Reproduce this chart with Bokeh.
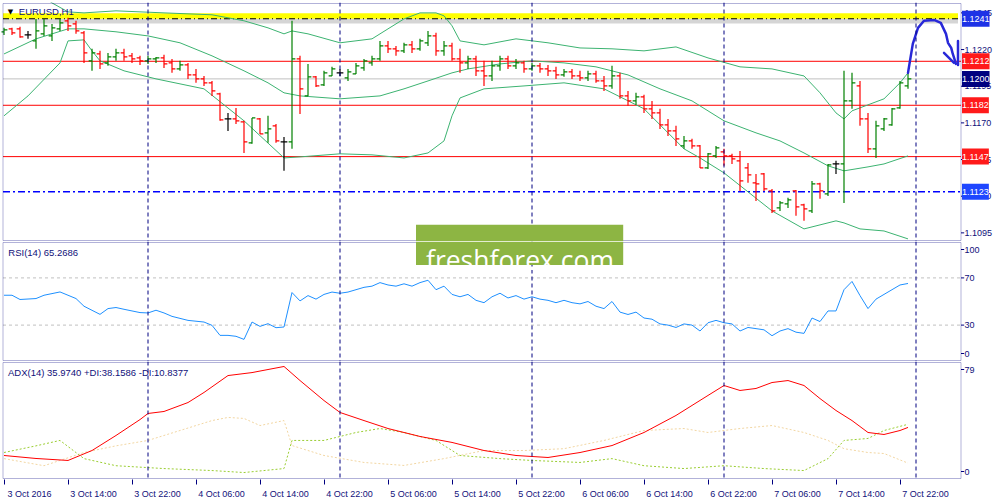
from bokeh.plotting import figure
from bokeh.layouts import column
from bokeh.models import Range1d, Span, Label, FixedTicker, ColumnDataSource, BoxAnnotation
from bokeh.transform import dodge
from bokeh.embed import file_html
from bokeh.resources import INLINE

# ---------------- data ----------------
symbol_title = "EURUSD,H1"
x_tick_bars = [0, 8, 16, 24, 32, 40, 48, 56, 64, 72, 80, 88, 96, 104, 112]
x_tick_labels = ["3 Oct 2016", "3 Oct 14:00", "3 Oct 22:00", "4 Oct 06:00", "4 Oct 14:00",
                 "4 Oct 22:00", "5 Oct 06:00", "5 Oct 14:00", "5 Oct 22:00", "6 Oct 06:00",
                 "6 Oct 14:00", "6 Oct 22:00", "7 Oct 06:00", "7 Oct 14:00", "7 Oct 22:00"]
day_breaks = [18, 42, 66, 90, 114]
price_ticks = [1.1245, 1.1220, 1.1195, 1.1170, 1.1145, 1.1120, 1.1095]

opens = [1.12321, 1.12341, 1.12341, 1.12300, 1.12259, 1.12307, 1.12293, 1.12341, 1.12396, 1.12375,
         1.12314, 1.12123, 1.12170, 1.12109, 1.12150, 1.12177, 1.12157, 1.12143, 1.12123, 1.12136,
         1.12143, 1.12109, 1.12068, 1.12095, 1.12027, 1.12000, 1.11973, 1.11898, 1.11727, 1.11727,
         1.11707, 1.11564, 1.11727, 1.11632, 1.11680, 1.11570, 1.11570, 1.12136, 1.11884, 1.12014,
         1.11959, 1.12020, 1.12041, 1.12007, 1.12034, 1.12075, 1.12109, 1.12136, 1.12225, 1.12205,
         1.12191, 1.12232, 1.12205, 1.12246, 1.12293, 1.12191, 1.12225, 1.12136, 1.12109, 1.12136,
         1.12055, 1.12020, 1.12089, 1.12136, 1.12089, 1.12109, 1.12068, 1.12089, 1.12068, 1.12055,
         1.12027, 1.12048, 1.12020, 1.12007, 1.12034, 1.11986, 1.11952, 1.12020, 1.11884, 1.11850,
         1.11877, 1.11796, 1.11768, 1.11686, 1.11645, 1.11543, 1.11577, 1.11543, 1.11393, 1.11475,
         1.11502, 1.11475, 1.11441, 1.11393, 1.11291, 1.11352, 1.11236, 1.11120, 1.11148, 1.11236,
         1.11141, 1.11100, 1.11284, 1.11216, 1.11420, 1.11420, 1.11850, 1.11952, 1.11727, 1.11523,
         1.11659, 1.11686, 1.11802, 1.11952]
highs = [1.12348, 1.12348, 1.12355, 1.12327, 1.12409, 1.12409, 1.12375, 1.12409, 1.12416, 1.12396,
         1.12327, 1.12205, 1.12191, 1.12177, 1.12205, 1.12205, 1.12177, 1.12157, 1.12157, 1.12150,
         1.12164, 1.12136, 1.12123, 1.12109, 1.12068, 1.12020, 1.11986, 1.11905, 1.11768, 1.11802,
         1.11714, 1.11734, 1.11734, 1.11748, 1.11693, 1.11604, 1.12396, 1.12157, 1.12102, 1.12020,
         1.12055, 1.12082, 1.12068, 1.12068, 1.12109, 1.12136, 1.12157, 1.12259, 1.12259, 1.12225,
         1.12246, 1.12259, 1.12273, 1.12327, 1.12314, 1.12259, 1.12246, 1.12205, 1.12157, 1.12157,
         1.12123, 1.12123, 1.12157, 1.12157, 1.12136, 1.12123, 1.12109, 1.12109, 1.12095, 1.12082,
         1.12068, 1.12068, 1.12055, 1.12055, 1.12055, 1.12020, 1.12089, 1.12041, 1.11918, 1.11905,
         1.11891, 1.11850, 1.11796, 1.11727, 1.11680, 1.11611, 1.11591, 1.11550, 1.11495, 1.11543,
         1.11523, 1.11489, 1.11509, 1.11427, 1.11352, 1.11359, 1.11250, 1.11168, 1.11189, 1.11243,
         1.11148, 1.11304, 1.11291, 1.11420, 1.11441, 1.12055, 1.12041, 1.11986, 1.11768, 1.11714,
         1.11734, 1.11802, 1.11986, 1.12041]
lows = [1.12300, 1.12300, 1.12280, 1.12273, 1.12205, 1.12293, 1.12259, 1.12327, 1.12327, 1.12307,
        1.12109, 1.12055, 1.12068, 1.12089, 1.12123, 1.12123, 1.12109, 1.12095, 1.12102, 1.12109,
        1.12075, 1.12041, 1.12055, 1.12000, 1.11973, 1.11952, 1.11884, 1.11714, 1.11645, 1.11693,
        1.11495, 1.11557, 1.11625, 1.11564, 1.11564, 1.11373, 1.11523, 1.11761, 1.11884, 1.11945,
        1.11952, 1.12020, 1.12020, 1.11986, 1.12034, 1.12055, 1.12089, 1.12123, 1.12177, 1.12157,
        1.12177, 1.12177, 1.12191, 1.12225, 1.12157, 1.12157, 1.12123, 1.12041, 1.12068, 1.12020,
        1.11952, 1.11986, 1.12055, 1.12068, 1.12068, 1.12041, 1.12055, 1.12041, 1.12020, 1.12000,
        1.12014, 1.12000, 1.11986, 1.11986, 1.11973, 1.11918, 1.11932, 1.11864, 1.11816, 1.11823,
        1.11768, 1.11727, 1.11659, 1.11611, 1.11543, 1.11523, 1.11523, 1.11393, 1.11386, 1.11461,
        1.11407, 1.11420, 1.11236, 1.11291, 1.11168, 1.11236, 1.11086, 1.11100, 1.11120, 1.11066,
        1.11032, 1.11086, 1.11182, 1.11202, 1.11352, 1.11154, 1.11796, 1.11680, 1.11495, 1.11461,
        1.11645, 1.11680, 1.11796, 1.11932]
closes = [1.12334, 1.12314, 1.12287, 1.12300, 1.12327, 1.12362, 1.12348, 1.12382, 1.12362, 1.12327,
          1.12177, 1.12177, 1.12102, 1.12150, 1.12177, 1.12150, 1.12136, 1.12123, 1.12136, 1.12143,
          1.12102, 1.12068, 1.12095, 1.12027, 1.12000, 1.11973, 1.11918, 1.11720, 1.11727, 1.11714,
          1.11570, 1.11734, 1.11625, 1.11659, 1.11577, 1.11570, 1.12136, 1.11932, 1.12014, 1.11952,
          1.12041, 1.12068, 1.12041, 1.12048, 1.12089, 1.12123, 1.12136, 1.12225, 1.12205, 1.12191,
          1.12232, 1.12205, 1.12259, 1.12293, 1.12191, 1.12225, 1.12136, 1.12109, 1.12136, 1.12055,
          1.12020, 1.12089, 1.12136, 1.12089, 1.12109, 1.12068, 1.12089, 1.12068, 1.12055, 1.12027,
          1.12048, 1.12020, 1.12007, 1.12034, 1.11986, 1.11952, 1.12020, 1.11884, 1.11850, 1.11877,
          1.11796, 1.11768, 1.11686, 1.11645, 1.11591, 1.11577, 1.11543, 1.11393, 1.11489, 1.11529,
          1.11475, 1.11454, 1.11304, 1.11345, 1.11284, 1.11250, 1.11100, 1.11154, 1.11175, 1.11127,
          1.11114, 1.11284, 1.11236, 1.11413, 1.11420, 1.11850, 1.11973, 1.11727, 1.11523, 1.11680,
          1.11727, 1.11796, 1.11973, 1.12000]

bb_upper_bar = [0, 3, 6, 8, 10, 14, 20, 26, 30, 33, 35, 36, 38, 42, 46, 48, 50, 52, 54, 55, 56, 57,
                60, 64, 68, 72, 76, 80, 84, 88, 92, 96, 100, 102, 104, 105, 106, 108, 110, 112, 113]
bb_upper = [1.12737, 1.12634, 1.12518, 1.12457, 1.12450, 1.12464, 1.12450, 1.12437, 1.12396, 1.12348,
            1.12307, 1.12327, 1.12307, 1.12246, 1.12273, 1.12341, 1.12409, 1.12450, 1.12450, 1.12430,
            1.12362, 1.12259, 1.12232, 1.12273, 1.12246, 1.12211, 1.12205, 1.12191, 1.12218, 1.12143,
            1.12082, 1.12068, 1.12020, 1.11905, 1.11768, 1.11727, 1.11782, 1.11823, 1.11864, 1.11973,
            1.12041]
bb_mid_bar = [0, 4, 8, 10, 14, 18, 22, 26, 30, 33, 35, 37, 42, 47, 50, 53, 56, 58, 62, 66, 70, 74,
              78, 82, 86, 90, 94, 97, 100, 103, 105, 108, 110, 113]
bb_mid = [1.12170, 1.12273, 1.12341, 1.12341, 1.12321, 1.12293, 1.12246, 1.12157, 1.12055, 1.11973,
          1.11905, 1.11884, 1.11864, 1.11884, 1.11932, 1.11986, 1.12041, 1.12068, 1.12102, 1.12123,
          1.12109, 1.12082, 1.12027, 1.11932, 1.11850, 1.11714, 1.11632, 1.11577, 1.11495, 1.11407,
          1.11373, 1.11400, 1.11420, 1.11475]
bb_lower_bar = [0, 3, 7, 8, 10, 11, 12, 15, 19, 25, 30, 35, 37, 42, 46, 50, 53, 55, 56, 57, 60, 65,
                70, 75, 80, 85, 87, 90, 96, 100, 104, 105, 107, 110, 113]
bb_lower = [1.11748, 1.11884, 1.12109, 1.12259, 1.12266, 1.12191, 1.12123, 1.12055, 1.12000, 1.11932,
            1.11714, 1.11461, 1.11468, 1.11489, 1.11482, 1.11461, 1.11495, 1.11577, 1.11748, 1.11870,
            1.11932, 1.11952, 1.11973, 1.11932, 1.11796, 1.11523, 1.11461, 1.11359, 1.11100, 1.10977,
            1.11032, 1.11018, 1.10977, 1.10963, 1.10909]

levels = [1.1241, 1.1212, 1.1200, 1.1182, 1.1147, 1.1123]
level_kind = ["target", "resist", "bid", "resist", "resist", "support"]

arrow_x = [113.0, 113.6, 114.25, 115.0, 116.25, 117.1, 117.75, 118.0, 118.4, 118.6, 119.0]
arrow_y = [1.12041, 1.12239, 1.12348, 1.12396, 1.12402, 1.12382, 1.12307, 1.12246, 1.12211, 1.12170, 1.12102]
arrow_head_x = [[117.5, 118.75], [119.25, 119.25]]
arrow_head_y = [[1.12177, 1.12109], [1.12259, 1.12095]]

rsi_title = "RSI(14) 65.2686"
rsi_ticks = [100, 70, 30, 0]
rsi_levels = [70, 30]
rsi_bar = [0, 1, 2, 4, 5, 6, 7, 8, 9, 10, 12, 13, 14, 15, 17, 18, 19, 20, 21, 23, 25, 26, 27, 28, 29,
           30, 31, 32, 33, 34, 35, 36, 37, 38, 39, 40, 41, 42, 43, 44, 45, 46, 47, 48, 49, 50, 51, 52,
           53, 54, 55, 56, 57, 58, 59, 60, 61, 62, 63, 64, 65, 66, 67, 68, 69, 70, 71, 72, 73, 74, 75,
           76, 77, 78, 79, 80, 81, 82, 83, 84, 85, 86, 87, 88, 89, 90, 91, 92, 93, 94, 95, 96, 97, 98,
           99, 100, 101, 102, 103, 104, 105, 106, 107, 108, 109, 110, 111, 112, 113]
rsi = [55.3, 55.3, 51.7, 52.5, 55.3, 56.7, 58.1, 55.3, 52.5, 46.0, 39.1, 44.0, 44.9, 43.4, 40.6, 40.3,
       42.6, 40.3, 37.4, 34.0, 32.6, 29.8, 21.3, 21.3, 20.5, 17.9, 32.6, 28.9, 31.2, 27.8, 28.4, 57.6,
       50.5, 55.0, 52.0, 56.0, 58.0, 57.0, 58.0, 60.0, 62.0, 63.0, 66.0, 64.0, 63.0, 65.0, 63.0, 66.0,
       68.0, 60.0, 63.0, 56.0, 54.0, 56.0, 51.0, 49.0, 54.0, 57.0, 53.0, 55.0, 52.0, 54.0, 52.0, 51.0,
       49.0, 51.0, 49.0, 48.0, 50.0, 46.0, 44.0, 50.0, 41.0, 39.0, 41.0, 36.0, 35.0, 31.0, 30.0, 28.0,
       31.0, 30.0, 25.0, 32.0, 34.0, 32.0, 31.0, 25.0, 28.0, 27.0, 26.0, 21.0, 25.0, 27.0, 24.0, 23.0,
       36.0, 33.0, 42.0, 42.0, 60.0, 67.0, 55.0, 44.0, 52.0, 56.0, 60.0, 64.0, 65.27]

adx_title = "ADX(14) 35.9740 +DI:38.1586 -DI:10.8377"
adx_ticks = [79, 0]
adx_bar = [0, 4, 8, 11, 14, 17, 18, 20, 23, 25, 28, 31, 35, 37, 40, 42, 45, 48, 52, 56, 60, 64, 68,
           72, 76, 80, 84, 88, 90, 92, 94, 96, 98, 100, 102, 104, 106, 108, 110, 112, 113]
adx = [16.2, 14.1, 12.7, 19.7, 30.3, 41.5, 45.8, 47.2, 53.5, 60.6, 72.5, 74.6, 78.9, 69.0, 54.9, 46.5,
       40.8, 35.2, 29.6, 25.4, 19.7, 16.2, 14.8, 18.3, 23.2, 32.4, 44.4, 58.5, 65.5, 62.0, 63.4, 67.6,
       69.0, 65.5, 56.3, 47.9, 40.8, 32.4, 31.0, 33.8, 35.97]
plus_di_bar = [0, 4, 7, 10, 14, 20, 26, 30, 35, 36, 40, 44, 47, 50, 54, 57, 62, 66, 72, 76, 80, 85,
               90, 95, 100, 103, 105, 108, 110, 113]
plus_di = [18.3, 23.0, 26.8, 14.0, 9.0, 7.0, 5.6, 4.2, 7.0, 26.8, 26.8, 32.4, 35.2, 32.4, 26.8, 16.2,
           14.0, 12.7, 11.3, 14.0, 9.0, 7.0, 9.0, 7.0, 5.6, 14.0, 26.8, 28.2, 33.8, 38.16]
minus_di_bar = [0, 5, 10, 14, 18, 22, 26, 28, 30, 32, 35, 36, 40, 45, 50, 55, 60, 65, 70, 75, 80, 85,
                88, 92, 96, 100, 103, 105, 108, 110, 113]
minus_di = [14.0, 9.0, 18.3, 23.0, 26.8, 33.8, 40.8, 43.0, 42.3, 37.3, 40.8, 23.2, 16.2, 11.3, 9.2,
            14.0, 19.7, 19.7, 21.0, 26.8, 33.8, 35.2, 32.4, 35.2, 37.3, 32.4, 26.8, 21.0, 18.3, 17.6, 10.84]

watermark = "freshforex.com"

# ---------------- layout constants ----------------
NAVY = "#000080"
TXT = "#10107a"
FONT = "Liberation Sans"
PX_PER_BAR = 8.0
X0, X1 = -0.125, 119.625      # chart area border; right of X1 is the price-scale strip
FRAME_W = 998
XS = -0.3125
x_rng = Range1d(XS, XS + FRAME_W / PX_PER_BAR)


def make_fig(frame_h, lo, hi, inner_h, top, bottom, ticks, tick_text, x_loc=None):
    unit = (hi - lo) / inner_h                    # value per pixel
    pad = unit * (frame_h - inner_h) / 2
    p = figure(frame_width=FRAME_W, frame_height=frame_h, x_range=x_rng,
               y_range=Range1d(lo - pad, hi + pad),
               y_axis_location="right", x_axis_location=x_loc,
               toolbar_location=None, output_backend="svg",
               min_border_left=1, min_border_right=0, min_border_top=top, min_border_bottom=bottom)
    p.grid.visible = False
    p.outline_line_color = None
    # scale labels are kept ~7px inside the panel, as the terminal does
    margin = 7 * unit
    pos = [min(max(v, lo + margin), hi - margin) for v in ticks]
    ax = p.yaxis[0]
    ax.ticker = FixedTicker(ticks=pos)
    ax.major_label_overrides = {q: t for q, t in zip(pos, tick_text)}
    ax.axis_line_color = None
    ax.major_tick_line_color = None
    ax.major_tick_out = 0
    ax.major_tick_in = 0
    ax.minor_tick_line_color = None
    ax.major_label_text_color = TXT
    ax.major_label_text_font = FONT
    ax.major_label_text_font_size = "9px"
    ax.major_label_standoff = -35
    p.add_layout(BoxAnnotation(left=X0, right=X1, bottom=lo, top=hi, fill_color=None,
                               line_color=NAVY, line_width=1))
    p.segment(x0=X1, x1=X1 + 0.4, y0=pos, y1=pos, line_color=NAVY, line_width=1)
    for b in day_breaks:
        p.add_layout(Span(location=b, dimension="height", line_color=NAVY,
                          line_dash="4 3", line_width=1))
    return p


# ---------------- price panel ----------------
P_LO, P_HI = 1.10898, 1.12514
p1 = make_fig(239, P_LO, P_HI, 237, 2, 0, price_ticks, [f"{v:.4f}" for v in price_ticks])

p1.add_layout(BoxAnnotation(left=X0, right=119.25, bottom=1.12377, top=levels[0], fill_color="#888888",
                            fill_alpha=0.35, line_color=None, level="underlay"))
p1.add_layout(BoxAnnotation(left=X0, right=119.25, bottom=levels[0], top=1.12447, fill_color="#ffff00",
                            fill_alpha=1.0, line_color=None, level="underlay"))

line_style = {
    "target": dict(line_color="#000000", line_dash="6 3 1 3", line_width=1),
    "resist": dict(line_color="#ff0000", line_dash="solid", line_width=1),
    "bid": dict(line_color="#c0c0c0", line_dash="solid", line_width=1),
    "support": dict(line_color="#0000ff", line_dash="7 3 2 3", line_width=1.5),
}
for lv, kind in zip(levels, level_kind):
    p1.segment(x0=X0, x1=X1, y0=[lv], y1=[lv], **line_style[kind])

bb_col = "#3cb371"
p1.line(bb_upper_bar, bb_upper, line_color=bb_col, line_width=1)
p1.line(bb_mid_bar, bb_mid, line_color=bb_col, line_width=1)
p1.line(bb_lower_bar, bb_lower, line_color=bb_col, line_width=1)

bar_colors = ["#008000" if c > o else ("#ff0000" if c < o else "#000000") for o, c in zip(opens, closes)]
src = ColumnDataSource(dict(x=list(range(len(opens))), o=opens, h=highs, l=lows, c=closes, col=bar_colors))
p1.segment(x0="x", y0="l", x1="x", y1="h", line_color="col", line_width=1.2, source=src)
p1.segment(x0=dodge("x", -0.42), y0="o", x1="x", y1="o", line_color="col", line_width=1.2, source=src)
p1.segment(x0="x", y0="c", x1=dodge("x", 0.42), y1="c", line_color="col", line_width=1.2, source=src)

# hand-drawn forecast arrow
p1.line(arrow_x, arrow_y, line_color="#2828d8", line_width=2.5, line_cap="round", line_join="round")
p1.multi_line(arrow_head_x, arrow_head_y, line_color="#2828d8", line_width=2.5, line_cap="round")

# watermark (upper part)
p1.add_layout(BoxAnnotation(left=51.5, right=77.4, top=1.11006, fill_color="#8db543",
                            fill_alpha=1.0, line_color=None, level="overlay"))

# level price tags on the price scale
tag_bg = {"target": "#1e32e6", "resist": "#ff1a1a", "bid": "#000080", "support": "#1e46ff"}
for lv, kind in zip(levels, level_kind):
    p1.add_layout(Label(x=X1, y=lv, text=f"{lv:.4f}", x_offset=1, text_align="left",
                        text_baseline="middle", text_color="white", text_font=FONT,
                        text_font_size="9px", background_fill_color=tag_bg[kind],
                        padding=(0, 5), level="overlay"))

p1.add_layout(Label(x=0.8, y=1.12459, text="\u25bc", text_color="black", text_font="DejaVu Sans",
                    text_font_size="7px", text_align="center", text_baseline="middle"))
p1.add_layout(Label(x=1.85, y=1.12459, text=symbol_title, text_color=TXT, text_font=FONT,
                    text_font_size="9.5px", text_baseline="middle"))

# ---------------- RSI panel ----------------
p2 = make_fig(120, 0, 100, 118, 0, 0, rsi_ticks, [str(v) for v in rsi_ticks])
p2.segment(x0=X0, x1=X1, y0=rsi_levels, y1=rsi_levels, line_color="#c0c0c0", line_dash="3 3", line_width=1)
p2.line(rsi_bar, rsi, line_color="#1e90ff", line_width=1)
p2.add_layout(BoxAnnotation(left=51.5, right=77.4, bottom=80.9, fill_color="#8db543",
                            fill_alpha=1.0, line_color=None, level="overlay"))
p2.add_layout(Label(x=64.5, y=85.3, text=watermark, text_align="center", text_baseline="alphabetic",
                    text_color="white", text_font="Open Sans", text_font_size="26.5px", level="overlay"))
p2.add_layout(Label(x=0.54, y=91.9, text=rsi_title, text_color=TXT, text_font=FONT,
                    text_font_size="9.5px", text_baseline="middle"))

# ---------------- ADX panel ----------------
p3 = make_fig(118, 0, 81.7, 116, 0, 20, adx_ticks, [str(v) for v in adx_ticks], x_loc="below")
p3.line(minus_di_bar, minus_di, line_color="#f2d6a2", line_width=1, line_dash="2 2")
p3.line(plus_di_bar, plus_di, line_color="#9acd32", line_width=1, line_dash="2 2")
p3.line(adx_bar, adx, line_color="#ff0000", line_width=1)
p3.add_layout(Label(x=0.5, y=74.6, text=adx_title, text_color=TXT, text_font=FONT,
                    text_font_size="9.5px", text_baseline="middle"))

xa = p3.xaxis[0]
label_pos = [b + 3.2 for b in x_tick_bars]
xa.ticker = FixedTicker(ticks=label_pos, minor_ticks=x_tick_bars)
xa.major_label_overrides = {q: lab for q, lab in zip(label_pos, x_tick_labels)}
xa.axis_line_color = None
xa.major_tick_line_color = None
xa.major_tick_out = 0
xa.major_tick_in = 0
xa.minor_tick_line_color = NAVY
xa.minor_tick_out = 5
xa.minor_tick_in = 0
xa.major_label_standoff = 4
xa.major_label_text_color = TXT
xa.major_label_text_font = FONT
xa.major_label_text_font_size = "9px"

layout = column(p1, p2, p3, spacing=0)
open("out.html", "w").write(file_html(layout, INLINE))
